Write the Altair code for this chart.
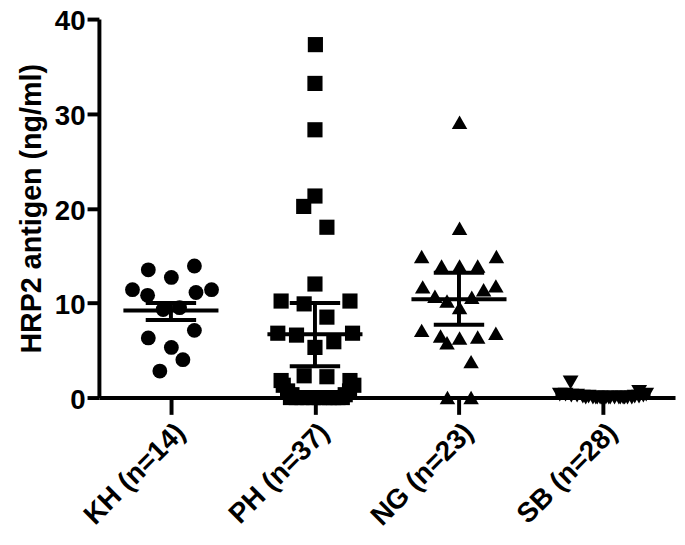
import altair as alt
import pandas as pd

# Groups and labels
groups = ["KH", "PH", "NG", "SB"]
labels = ["KH (n=14)", "PH (n=37)", "NG (n=23)", "SB (n=28)"]
shapes = ["circle", "square", "triangle-up", "triangle-down"]

# Individual values (ng/ml), with horizontal scatter offsets
kh_vals = [13.5, 13.9, 12.7, 11.4, 10.8, 11.1, 11.4, 9.3, 9.5, 7.1, 6.3, 5.3, 4.0, 2.8]
kh_offs = [-0.157, 0.163, 0.003, -0.267, -0.162, 0.174, 0.282, -0.054, 0.06, 0.163, -0.157, 0.003, 0.083, -0.077]

ph_vals = [37.3, 33.2, 28.3, 21.3, 20.2, 18.0, 12.0, 10.2, 9.9, 10.2, 8.5, 6.8, 6.6, 6.8,
           5.3, 5.9, 2.3, 2.2, 1.8, 1.8,
           1.3, 0.7, 0.3, 1.3, 0.7, 0.3,
           0.0, 0.0, 0.0, 0.0, 0.0, 0.0, 0.0, 0.0, 0.0, 0.0, 0.0]
ph_offs = [0.003, 0.0, 0.0, 0.0, -0.078, 0.083, 0.0, -0.235, -0.075, 0.243, 0.083, -0.258, -0.128, 0.261,
           0.0, 0.131, -0.075, 0.083, -0.235, 0.243,
           -0.22, -0.19, -0.16, 0.27, 0.24, 0.21,
           -0.17, -0.13, -0.09, -0.05, -0.01, 0.03, 0.07, 0.10, 0.13, 0.16, 0.19]

ng_vals = [29.1, 17.9, 14.9, 14.9, 13.9, 13.9, 13.9, 11.7, 11.8, 11.4, 10.7, 10.2, 10.6, 9.5,
           7.1, 6.5, 5.8, 6.3, 6.4, 6.8, 3.8, 0.0, 0.0]
ng_offs = [0.004, 0.004, -0.259, 0.26, -0.121, 0.004, 0.13, -0.252, 0.256, 0.171, -0.167, -0.083, 0.089, 0.004,
           -0.259, -0.128, -0.083, 0.004, 0.13, 0.256, 0.084, -0.08, 0.084]

sb_vals = [1.6, 0.6, 0.3, 0.3, 0.2, 0.2, 0.1, 0.1, 0.0, 0.0, 0.0, 0.0, 0.0, 0.0,
           0.0, 0.0, 0.0, 0.0, 0.0, 0.0, 0.0, 0.0, 0.1, 0.1, 0.2, 0.3, 0.0, 0.0]
sb_offs = [-0.225, 0.251, -0.30, -0.26, -0.22, -0.18, -0.14, -0.10, -0.07, -0.04, -0.01, 0.02, 0.05, 0.08,
           0.11, 0.14, 0.17, 0.20, -0.12, -0.05, 0.04, 0.12, 0.22, 0.25, 0.28, 0.30, -0.02, 0.15]

# Summary lines (mean with error)
centre = [9.2, 6.7, 10.4, 0.3]
lower = [8.2, 3.3, 7.7, 0.1]
upper = [10.0, 10.0, 13.2, 0.5]

rows = []
for gi, (vals, offs) in enumerate([(kh_vals, kh_offs), (ph_vals, ph_offs), (ng_vals, ng_offs), (sb_vals, sb_offs)]):
    for v, o in zip(vals, offs):
        rows.append({"group": groups[gi], "x": gi + o, "value": v})
pts = pd.DataFrame(rows)

stats = pd.DataFrame({"group": groups, "idx": list(range(4)), "centre": centre, "lower": lower, "upper": upper})

FONT = "Liberation Sans"
label_expr = "[" + ",".join("'" + l + "'" for l in labels) + "][datum.value]"

xscale = alt.Scale(domain=[-0.5, 3.5], nice=False, zero=False)
yscale = alt.Scale(domain=[0, 40], nice=False)

xaxis = alt.Axis(values=[0, 1, 2, 3], labelExpr=label_expr, labelAngle=-45, labelAlign="right",
                 labelBaseline="top", labelFont=FONT, labelFontSize=28, labelFontWeight="bold",
                 labelColor="black", tickSize=17, tickWidth=4, tickColor="black", domainWidth=4,
                 domainColor="black", grid=False, title=None, labelPadding=4)
yaxis = alt.Axis(values=[0, 10, 20, 30, 40], labelFont=FONT, labelFontSize=28, labelFontWeight="bold",
                 labelColor="black", tickSize=12, tickWidth=4, tickColor="black", domainWidth=4,
                 domainColor="black", grid=False, title="HRP2 antigen (ng/ml)", titleFont=FONT,
                 titleFontSize=29, titleFontWeight="bold", titleColor="black", labelPadding=2,
                 titlePadding=8, labelOffset=3)

points = alt.Chart(pts).mark_point(filled=True, opacity=1, color="black").encode(
    x=alt.X("x:Q", scale=xscale, axis=xaxis),
    y=alt.Y("value:Q", scale=yscale, axis=yaxis),
    shape=alt.Shape("group:N", scale=alt.Scale(domain=groups, range=shapes), legend=None),
    size=alt.Size("group:N", scale=alt.Scale(domain=groups, range=[225, 256, 230, 230]), legend=None),
)

base = alt.Chart(stats)
mean_line = base.transform_calculate(a="datum.idx - 0.33", b="datum.idx + 0.33").mark_rule(
    color="black", strokeWidth=4).encode(
    x=alt.X("a:Q", scale=xscale), x2="b:Q", y=alt.Y("centre:Q", scale=yscale))
top_line = base.transform_calculate(a="datum.idx - 0.175", b="datum.idx + 0.175").mark_rule(
    color="black", strokeWidth=4).encode(
    x=alt.X("a:Q", scale=xscale), x2="b:Q", y=alt.Y("upper:Q", scale=yscale))
bot_line = base.transform_calculate(a="datum.idx - 0.175", b="datum.idx + 0.175").mark_rule(
    color="black", strokeWidth=4).encode(
    x=alt.X("a:Q", scale=xscale), x2="b:Q", y=alt.Y("lower:Q", scale=yscale))
vert = base.mark_rule(color="black", strokeWidth=4).encode(
    x=alt.X("idx:Q", scale=xscale), y=alt.Y("lower:Q", scale=yscale), y2="upper:Q")

chart = alt.layer(points, mean_line, top_line, bot_line, vert).properties(
    width=583, height=383,
    autosize=alt.AutoSizeParams(type="none"),
    padding={"left": 92, "top": 8, "right": 2, "bottom": 146},
    background="white",
).configure_view(stroke=None)

chart.save("out.html", embed_options={"renderer": "svg", "actions": False})
